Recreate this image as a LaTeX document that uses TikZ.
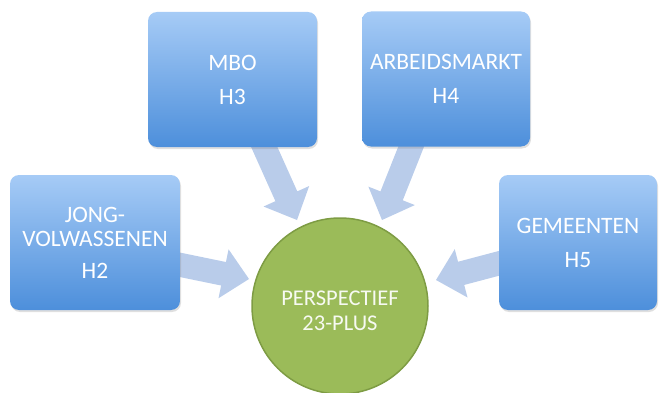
\documentclass[tikz,border=0pt]{standalone}
\usepackage{fontspec}
\setmainfont{Carlito}
\usetikzlibrary{calc,shadows}

\definecolor{boxtop}{HTML}{A6CBF6}
\definecolor{boxbot}{HTML}{4D8FDB}
\definecolor{flowblue}{HTML}{B9CCEA}
\definecolor{circgreen}{HTML}{9BBB59}
\definecolor{circline}{HTML}{7E9C44}

\newcommand{\blockarrow}[2]{%
	\coordinate (hb) at ($(#2)!26pt!(#1)$);
	\fill[flowblue] ($(#1)!12pt!90:(#2)$) -- ($(hb)!12pt!-90:(#1)$) -- ($(hb)!25pt!-90:(#1)$)
		-- (#2) -- ($(hb)!25pt!90:(#1)$) -- ($(hb)!12pt!90:(#1)$) -- ($(#1)!12pt!-90:(#2)$) -- cycle;}

\begin{document}
\begin{tikzpicture}
		[x=1pt,y=1pt,
		hbox/.style={rectangle,rounded corners=9pt,minimum height=135pt,
			top color=boxtop,bottom color=boxbot,
			drop shadow={opacity=.25,shadow xshift=1pt,shadow yshift=-2pt},
			text=white,align=center,font=\fontsize{23.5}{24}\selectfont}]
		\useasboundingbox (0,0) rectangle (662,392);

		\coordinate (t2) at (176,128);
		\coordinate (p2) at (249,113);
		\coordinate (t3) at (262,250);
		\coordinate (p3) at (297,172);
		\coordinate (t4) at (413,250);
		\coordinate (p4) at (382,172);
		\coordinate (t5) at (504,130);
		\coordinate (p5) at (436,112);

		\blockarrow{t2}{p2}
		\blockarrow{t3}{p3}
		\blockarrow{t4}{p4}
		\blockarrow{t5}{p5}

		\node[hbox,minimum width=170pt] (h2) at (95,149.5) {JONG-\\VOLWASSENEN\\[8pt]H2};
		\node[hbox,minimum width=169pt] (h3) at (232.5,312.5) {MBO\\[10pt]H3};
		\node[hbox,minimum width=168pt] (h4) at (446,313) {ARBEIDSMARKT\\[10pt]H4};
		\node[hbox,minimum width=158pt] (h5) at (578,149.5) {GEMEENTEN\\[10pt]H5};

		\node[circle,minimum size=176pt,inner sep=0pt,fill=circgreen,draw=circline,line width=1.5pt,
			text=white!92!circgreen,align=center,font=\fontsize{22.5}{25}\selectfont] (pp) at (340,86) {\\PERSPECTIEF\\23-PLUS};

	\end{tikzpicture}
\end{document}
